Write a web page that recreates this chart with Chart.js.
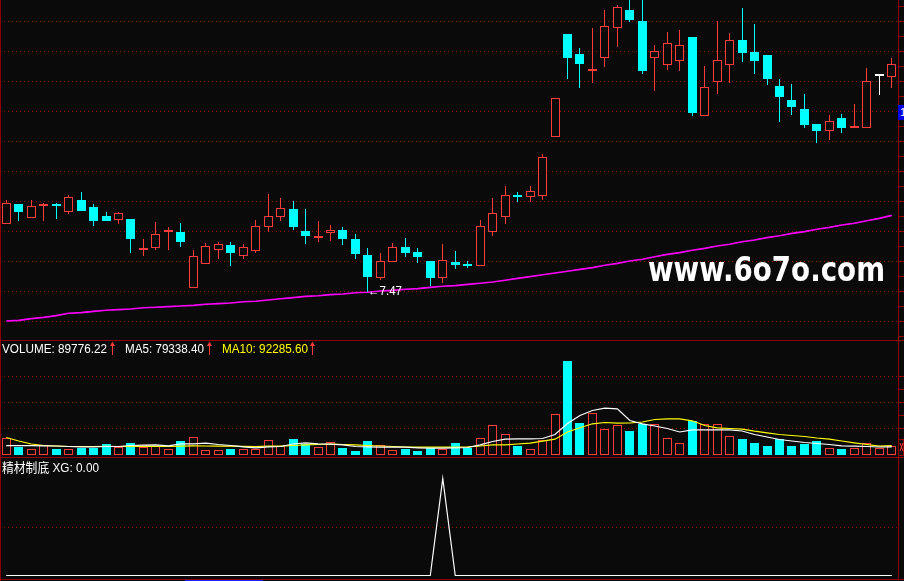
<!DOCTYPE html>
<html>
<head>
<meta charset="utf-8">
<script src="https://cdn.jsdelivr.net/npm/chart.js@4.4.1/dist/chart.umd.min.js"></script>
<style>
  html, body { margin: 0; padding: 0; background: #0a0a0a; }
  #wrap { position: relative; width: 904px; height: 581px; overflow: hidden; background: #0a0a0a; }
  canvas { position: absolute; left: 0; }
  .lbl { position: absolute; white-space: nowrap; transform-origin: 0 0;
         font-family: "Liberation Sans", "DejaVu Sans", sans-serif; }
</style>
</head>
<body>
<div id="wrap">
  <canvas id="priceChart" width="904" height="341" style="top:0px"></canvas>
  <canvas id="volChart" width="904" height="117" style="top:341px"></canvas>
  <canvas id="xgChart" width="904" height="123" style="top:458px"></canvas>

  <div id="volLabel" class="lbl" data-w="105" style="left:2px;top:342px;font-size:13px;line-height:13px;color:#ffffff"></div>
  <div id="ma5Label" class="lbl" data-w="79" style="left:125px;top:342px;font-size:13px;line-height:13px;color:#ffffff"></div>
  <div id="ma10Label" class="lbl" data-w="86" style="left:222px;top:342px;font-size:13px;line-height:13px;color:#ffff00"></div>
  <div id="xgLabel" class="lbl" data-w="97" style="left:2px;top:461px;font-size:13px;line-height:13px;color:#ffffff;font-family:'Liberation Sans','Noto Sans CJK SC',sans-serif"></div>
  <div id="lowLabel" class="lbl" data-w="34" style="left:368px;top:285px;font-size:12px;line-height:12px;color:#ffffff"></div>
  <div id="mark" class="lbl" data-w="237" style="left:648px;top:253px;font-size:33px;line-height:33px;font-weight:bold;font-family:'DejaVu Sans',sans-serif;color:#ffffff">www.6o7o.com</div>
  <div style="position:absolute;left:898px;top:105px;width:6px;height:15px;background:#0000e6;overflow:hidden;color:#fff;font:11px/15px 'Liberation Sans',sans-serif;"><span style="padding-left:2px">1</span></div>
</div>

<script>
// daily candles
const opens = [8.59, 8.93, 8.69, 8.90, 8.90, 8.79, 9.00, 8.88, 8.73, 8.66,
  8.68, 8.17, 8.20, 8.47, 8.46, 7.53, 7.93, 8.16, 8.25, 8.07,
  8.15, 8.55, 8.72, 8.85, 8.48, 8.36, 8.44, 8.50, 8.35, 8.08,
  7.70, 7.97, 8.21, 8.13, 7.98, 7.69, 7.96, 7.91, 7.90, 8.47,
  8.71, 9.08, 9.04, 9.07, 10.04, 11.76, 11.43, 11.14, 11.36, 11.86,
  12.16, 11.98, 11.36, 11.24, 11.32, 11.71, 10.40, 10.97, 11.25, 11.66,
  11.46, 11.41, 10.90, 10.66, 10.51, 10.26, 10.14, 10.36, 10.19, 10.20,
  11.06, 11.05];
const highs = [9.00, 8.93, 9.00, 8.95, 8.95, 9.08, 9.13, 8.93, 8.80, 8.80,
  8.68, 8.35, 8.63, 8.55, 8.62, 8.16, 8.28, 8.30, 8.30, 8.26,
  8.66, 9.10, 9.03, 8.98, 8.85, 8.65, 8.58, 8.55, 8.43, 8.20,
  8.11, 8.28, 8.36, 8.20, 7.98, 8.26, 8.15, 7.98, 8.66, 9.03,
  9.23, 9.13, 9.23, 9.76, 10.69, 11.76, 11.53, 11.86, 12.16, 12.25,
  12.45, 12.40, 11.58, 11.80, 11.83, 11.71, 11.23, 11.98, 11.78, 12.20,
  11.93, 11.41, 11.01, 10.93, 10.76, 10.26, 10.41, 10.43, 10.60, 11.20,
  11.10, 11.36];
const lows = [8.59, 8.64, 8.69, 8.64, 8.68, 8.77, 8.82, 8.57, 8.64, 8.59,
  8.12, 8.07, 8.17, 8.17, 8.22, 7.53, 7.93, 8.02, 7.89, 8.02,
  8.12, 8.47, 8.64, 8.49, 8.27, 8.29, 8.32, 8.24, 8.02, 7.47,
  7.67, 7.97, 8.05, 7.94, 7.57, 7.62, 7.85, 7.87, 7.90, 8.39,
  8.59, 8.97, 8.97, 8.99, 10.04, 11.02, 10.87, 10.95, 11.22, 11.55,
  11.97, 11.10, 10.82, 11.17, 11.14, 10.40, 10.40, 10.77, 10.94, 11.30,
  11.10, 10.92, 10.30, 10.42, 10.19, 9.94, 10.00, 10.12, 10.19, 10.20,
  10.74, 10.87];
const closes = [8.94, 8.79, 8.90, 8.91, 8.89, 9.04, 8.82, 8.64, 8.65, 8.78,
  8.34, 8.18, 8.43, 8.49, 8.29, 8.06, 8.23, 8.26, 8.12, 8.21,
  8.56, 8.73, 8.86, 8.55, 8.40, 8.37, 8.50, 8.34, 8.09, 7.72,
  7.98, 8.21, 8.12, 8.04, 7.70, 8.00, 7.92, 7.90, 8.56, 8.78,
  9.08, 9.04, 9.14, 9.71, 10.69, 11.37, 11.27, 11.16, 11.89, 12.21,
  12.00, 11.15, 11.48, 11.61, 11.58, 10.45, 10.88, 11.33, 11.66, 11.45,
  11.32, 11.02, 10.72, 10.54, 10.24, 10.14, 10.31, 10.19, 10.21, 10.98,
  11.06, 11.26];
// long moving average (purple)
const maLong = [6.98, 6.99, 7.02, 7.04, 7.07, 7.11, 7.12, 7.14, 7.16, 7.17,
  7.18, 7.20, 7.21, 7.22, 7.23, 7.24, 7.26, 7.27, 7.28, 7.30,
  7.31, 7.33, 7.35, 7.37, 7.39, 7.40, 7.42, 7.43, 7.45, 7.46,
  7.48, 7.49, 7.51, 7.52, 7.54, 7.56, 7.57, 7.59, 7.61, 7.63,
  7.66, 7.69, 7.72, 7.75, 7.78, 7.81, 7.84, 7.87, 7.91, 7.94,
  7.98, 8.01, 8.05, 8.09, 8.12, 8.16, 8.19, 8.23, 8.26, 8.30,
  8.33, 8.37, 8.40, 8.44, 8.47, 8.51, 8.54, 8.58, 8.61, 8.65,
  8.69, 8.74];

const volumes = [167900, 76100, 63400, 99600, 56600, 63400, 73200, 73200, 102500, 80000,
  122000, 80000, 83000, 63400, 131800, 177600, 50800, 50800, 63400, 53700,
  53700, 148400, 85900, 151300, 105400, 76100, 128800, 73200, 43900, 131800,
  95600, 50800, 53700, 43900, 70300, 60500, 122000, 70300, 167900, 294800,
  206900, 83000, 60500, 148400, 405000, 922300, 317200, 414800, 255700, 294800,
  232300, 297700, 304500, 167900, 119100, 336700, 304500, 304500, 187400, 151300,
  122000, 92700, 151300, 92700, 109300, 131800, 70300, 63400, 70300, 119100,
  70300, 89776.22];
const volMa5 = [90800, 90800, 90800, 89800, 87800, 83000, 80000, 80000, 83000, 83000,
  92700, 95600, 99600, 89800, 109300, 109300, 115200, 102500, 92700, 80000,
  70300, 80000, 83000, 107400, 119100, 109300, 105400, 99600, 83000, 80000,
  76100, 76100, 76100, 70300, 66400, 66400, 70300, 73200, 99600, 131800,
  154200, 158100, 158100, 161000, 200100, 307400, 385500, 434300, 456800, 450900,
  336700, 304500, 283000, 258600, 224500, 246000, 246000, 246000, 246000, 234200,
  200100, 175700, 151300, 136600, 122000, 112200, 102500, 89800, 85900, 83000,
  78100, 79338.40];
const volMa10 = [170800, 136600, 107400, 92700, 87800, 83000, 83000, 83000, 84000, 83000,
  85000, 84000, 84000, 83000, 86000, 90000, 88000, 87000, 86000, 84000,
  82000, 88000, 86000, 92700, 99600, 102500, 107400, 102500, 99600, 92700,
  87800, 83000, 78100, 76100, 76100, 76100, 76100, 80000, 87800, 99600,
  99600, 107400, 115200, 134700, 154200, 224500, 265500, 304500, 317200, 310400,
  312300, 322100, 346500, 353300, 353300, 333800, 287900, 265500, 258600, 251800,
  232300, 216700, 200100, 190300, 180600, 165900, 154200, 136600, 119100, 102500,
  86000, 92285.60];

// signal line of the bottom panel
const xg = [0, 0, 0, 0, 0, 0, 0, 0, 0, 0,
  0, 0, 0, 0, 0, 0, 0, 0, 0, 0,
  0, 0, 0, 0, 0, 0, 0, 0, 0, 0,
  0, 0, 0, 0, 0, 1, 0, 0, 0, 0,
  0, 0, 0, 0, 0, 0, 0, 0, 0, 0,
  0, 0, 0, 0, 0, 0, 0, 0, 0, 0,
  0, 0, 0, 0, 0, 0, 0, 0, 0, 0,
  0, 0];

// dotted grid levels of each panel
const priceGrid = [11.97, 11.47, 10.97, 10.47, 9.97, 9.47, 8.97, 8.47, 7.97, 7.47, 6.97];
const volGrid = [258640, 512400, 766160];
const xgGrid = [0.5];

const BG = '#0a0a0a';
const RED = '#ff3c3c';
const CYAN = '#00ffff';
const FRAME = '#900000';
const DOT = '#8c0000';

const days = opens.map((_, i) => String(i + 1));
const last = opens.length - 1;

const candleColor = opens.map((o, i) => closes[i] > o ? RED : (closes[i] < o ? CYAN : '#ffffff'));
const bodyFill = opens.map((o, i) => closes[i] > o ? BG : candleColor[i]);
const volColor = opens.map((o, i) => closes[i] >= o ? RED : CYAN);
const volFill = opens.map((o, i) => closes[i] >= o ? BG : CYAN);

function yScale(min, max, grid) {
    return {
        min: min,
        max: max,
        afterBuildTicks: s => { s.ticks = grid.map(v => ({ value: v })); },
        afterFit: s => { s.width = 0; },
        ticks: { display: false },
        grid: { color: DOT, lineWidth: 1, drawTicks: false },
        border: { display: false, dash: [1, 3] }
    };
}

const xScale = { display: false, offset: true, grid: { display: false } };

// put bar edges on whole pixels so the thin outlines stay sharp
const snapBars = {
    id: 'snapBars',
    beforeDatasetsDraw(chart) {
        chart.getSortedVisibleDatasetMetas().forEach(meta => {
            if (meta.type !== 'bar') return;
            meta.data.forEach(el => {
                el.x = Math.floor(el.x) + 0.5;
                el.y = Math.round(el.y);
                el.base = Math.round(el.base);
            });
        });
    }
};

function framePlugin(cfg) {
    return {
        id: 'frame',
        afterDraw(chart) {
            const ctx = chart.ctx;
            ctx.save();
            ctx.strokeStyle = FRAME;
            ctx.lineWidth = 1;
            ctx.beginPath();
            ctx.moveTo(0.5, 0); ctx.lineTo(0.5, chart.height);
            ctx.moveTo(898.5, 0); ctx.lineTo(898.5, cfg.bottom);
            cfg.ticks.forEach(y => { ctx.moveTo(899, y + 0.5); ctx.lineTo(904, y + 0.5); });
            ctx.moveTo(0, cfg.bottom + 0.5); ctx.lineTo(904, cfg.bottom + 0.5);
            ctx.stroke();
            if (cfg.after) cfg.after(ctx);
            ctx.restore();
        }
    };
}

function upArrow(ctx, x) {
    ctx.strokeStyle = RED;
    ctx.fillStyle = RED;
    ctx.beginPath();
    ctx.moveTo(x + 0.5, 4); ctx.lineTo(x + 0.5, 14);
    ctx.stroke();
    ctx.beginPath();
    ctx.moveTo(x + 0.5, 0.5); ctx.lineTo(x - 2, 5); ctx.lineTo(x + 3, 5);
    ctx.closePath();
    ctx.fill();
}

const common = {
    responsive: false,
    animation: false,
    events: [],
    plugins: { legend: { display: false }, tooltip: { enabled: false } }
};

const priceTicks = [];
for (let y = 6; y <= 336; y += 15) priceTicks.push(y);

// price panel
new Chart(document.getElementById('priceChart'), {
    type: 'bar',
    data: {
        labels: days,
        datasets: [{
            type: 'bar',
            label: 'wick',
            data: lows.map((l, i) => [l, highs[i]]),
            backgroundColor: candleColor,
            borderWidth: 0,
            barThickness: 1,
            grouped: false,
            inflateAmount: 0,
            order: 3
        },
        {
            type: 'bar',
            label: 'body',
            data: opens.map((o, i) => [o, closes[i]]),
            backgroundColor: bodyFill,
            borderColor: candleColor,
            borderWidth: 1,
            borderSkipped: false,
            barThickness: 9,
            minBarLength: 2,
            grouped: false,
            inflateAmount: 0,
            order: 2
        },
        {
            type: 'line',
            label: 'MA',
            data: maLong,
            borderColor: '#ff00ff',
            borderWidth: 1.6,
            pointRadius: 0,
            tension: 0,
            order: 1
        }]
    },
    options: Object.assign({}, common, {
        layout: { padding: { left: 0, right: 6, top: 0, bottom: 1 } },
        scales: { x: xScale, y: yScale(12.33 - 340 / 60, 12.33, priceGrid) }
    }),
    plugins: [snapBars, framePlugin({ bottom: 340, ticks: priceTicks })]
});

// volume panel
new Chart(document.getElementById('volChart'), {
    type: 'bar',
    data: {
        labels: days,
        datasets: [{
            type: 'bar',
            label: 'VOLUME',
            data: volumes,
            backgroundColor: volFill,
            borderColor: volColor,
            borderWidth: 1,
            borderSkipped: false,
            barThickness: 9,
            grouped: false,
            inflateAmount: 0,
            order: 2
        },
        {
            type: 'line',
            label: 'MA5',
            data: volMa5,
            borderColor: '#ffffff',
            borderWidth: 1.2,
            pointRadius: 0,
            order: 1
        },
        {
            type: 'line',
            label: 'MA10',
            data: volMa10,
            borderColor: '#ffff00',
            borderWidth: 1.2,
            pointRadius: 0,
            order: 1
        }]
    },
    options: Object.assign({}, common, {
        layout: { padding: { left: 0, right: 6, top: 0, bottom: 1 } },
        scales: { x: xScale, y: yScale(-19520, 1112640, volGrid) }
    }),
    plugins: [snapBars, framePlugin({
        bottom: 116,
        ticks: [35, 48, 61, 74, 87],
        after: ctx => {
            upArrow(ctx, 112);
            upArrow(ctx, 209);
            upArrow(ctx, 312);
            ctx.strokeStyle = FRAME;
            ctx.strokeRect(898.5, 98.5, 5, 16);
            ctx.strokeStyle = RED;
            ctx.beginPath();
            ctx.moveTo(900, 102); ctx.lineTo(903, 110);
            ctx.moveTo(903, 102); ctx.lineTo(900, 110);
            ctx.stroke();
        }
    })]
});

// indicator panel
new Chart(document.getElementById('xgChart'), {
    type: 'line',
    data: {
        labels: days,
        datasets: [{
            label: 'XG',
            data: xg,
            borderColor: '#ffffff',
            borderWidth: 1.2,
            pointRadius: 0,
            tension: 0
        }]
    },
    options: Object.assign({}, common, {
        layout: { padding: { left: 0, right: 6, top: 1, bottom: 3 } },
        scales: { x: xScale, y: yScale(-2.5 / 97, 116.5 / 97, xgGrid) }
    }),
    plugins: [framePlugin({
        bottom: 121,
        ticks: [],
        after: ctx => {
            ctx.fillStyle = '#2020ff';
            ctx.fillRect(185, 122, 78, 1);
        }
    })]
});

document.getElementById('volLabel').textContent = 'VOLUME: ' + volumes[last].toFixed(2);
document.getElementById('ma5Label').textContent = 'MA5: ' + volMa5[last].toFixed(2);
document.getElementById('ma10Label').textContent = 'MA10: ' + volMa10[last].toFixed(2);
document.getElementById('xgLabel').textContent = '精材制底 XG: ' + xg[last].toFixed(2);
document.getElementById('lowLabel').textContent = '\u2190' + Math.min(...lows).toFixed(2);

// squeeze each label to the width it takes in the picture
document.querySelectorAll('.lbl[data-w]').forEach(el => {
    const w = el.getBoundingClientRect().width;
    if (w > 0) el.style.transform = 'scaleX(' + (el.dataset.w / w) + ')';
});
</script>
</body>
</html>
